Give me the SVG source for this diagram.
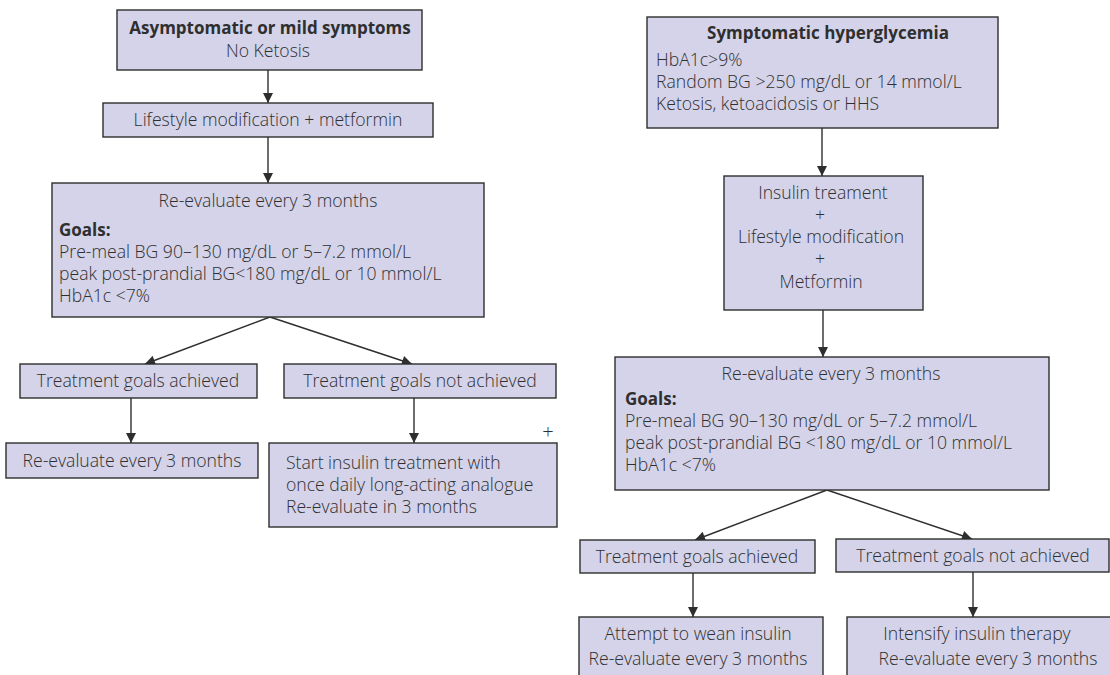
<svg xmlns="http://www.w3.org/2000/svg" width="1110" height="675" viewBox="0 0 1110 675">
<defs>
<style>
.box{fill:#d4d3e9;stroke:#2e2e2e;stroke-width:1.4}
text{font-family:"Open Sans","Noto Sans","Liberation Sans",sans-serif;font-size:17.6px;fill:#2f2f2f;font-weight:300}
.c{text-anchor:middle}
.b{font-weight:bold;font-size:17px}
.con{stroke:#2e2e2e;stroke-width:1.4;fill:none;marker-end:url(#ah)}
</style>
<marker id="ah" viewBox="0 0 10 10" refX="10" refY="5" markerWidth="11" markerHeight="10" markerUnits="userSpaceOnUse" orient="auto">
<path d="M0,0 L10,5 L0,10 z" fill="#2e2e2e"/>
</marker>
</defs>
<rect width="1110" height="675" fill="#ffffff"/>

<g id="connectors">
<line class="con" x1="268" y1="70" x2="268" y2="103"/>
<line class="con" x1="268" y1="137" x2="268" y2="183"/>
<line class="con" x1="270" y1="317" x2="145" y2="364"/>
<line class="con" x1="270" y1="317" x2="412" y2="364"/>
<line class="con" x1="131" y1="398" x2="131" y2="443"/>
<line class="con" x1="414" y1="398" x2="414" y2="443"/>
<line class="con" x1="822" y1="128" x2="822" y2="176"/>
<line class="con" x1="823" y1="310" x2="823" y2="357"/>
<line class="con" x1="827" y1="490" x2="695" y2="540"/>
<line class="con" x1="827" y1="490" x2="972" y2="539"/>
<line class="con" x1="693" y1="573" x2="693" y2="617"/>
<line class="con" x1="973" y1="572" x2="973" y2="617"/>
</g>

<g id="n-mild">
<rect class="box" x="117" y="10" width="305" height="60"/>
<text class="c b" x="270" y="34">Asymptomatic or mild symptoms</text>
<text class="c" x="268" y="57">No Ketosis</text>
</g>

<g id="n-lifestyle">
<rect class="box" x="103" y="103" width="330" height="34"/>
<text class="c" x="268" y="126">Lifestyle modification + metformin</text>
</g>

<g id="n-reeval-left">
<rect class="box" x="52" y="183" width="432" height="134"/>
<text class="c" x="268" y="207">Re-evaluate every 3 months</text>
<text class="b" x="59" y="236">Goals:</text>
<text x="59" y="258">Pre-meal BG 90–130 mg/dL or 5–7.2 mmol/L</text>
<text x="59" y="280">peak post-prandial BG&lt;180 mg/dL or 10 mmol/L</text>
<text x="59" y="302">HbA1c &lt;7%</text>
</g>

<g id="n-achieved-left">
<rect class="box" x="20" y="364" width="237" height="34"/>
<text class="c" x="138" y="387">Treatment goals achieved</text>
</g>

<g id="n-notachieved-left">
<rect class="box" x="284" y="364" width="272" height="34"/>
<text class="c" x="420" y="387">Treatment goals not achieved</text>
</g>

<g id="n-reeval-small">
<rect class="box" x="6" y="443" width="252" height="35"/>
<text class="c" x="132" y="467">Re-evaluate every 3 months</text>
</g>

<g id="n-start-insulin">
<rect class="box" x="269" y="443" width="288" height="84"/>
<text x="286" y="469">Start insulin treatment with</text>
<text x="286" y="491">once daily long-acting analogue</text>
<text x="286" y="513">Re-evaluate in 3 months</text>
<text class="c" x="548" y="439" style="font-size:20px">+</text>
</g>

<g id="n-symptomatic">
<rect class="box" x="647" y="17" width="351" height="111"/>
<text class="c b" x="828" y="39">Symptomatic hyperglycemia</text>
<text x="656" y="66">HbA1c&gt;9%</text>
<text x="656" y="88">Random BG &gt;250 mg/dL or 14 mmol/L</text>
<text x="656" y="110">Ketosis, ketoacidosis or HHS</text>
</g>

<g id="n-insulin">
<rect class="box" x="724" y="176" width="199" height="134"/>
<text class="c" x="823" y="199">Insulin treament</text>
<text class="c" x="820" y="221">+</text>
<text class="c" x="821" y="243">Lifestyle modification</text>
<text class="c" x="820" y="265">+</text>
<text class="c" x="821" y="288">Metformin</text>
</g>

<g id="n-reeval-right">
<rect class="box" x="615" y="357" width="434" height="133"/>
<text class="c" x="831" y="380">Re-evaluate every 3 months</text>
<text class="b" x="625" y="405">Goals:</text>
<text x="625" y="427">Pre-meal BG 90–130 mg/dL or 5–7.2 mmol/L</text>
<text x="625" y="449">peak post-prandial BG &lt;180 mg/dL or 10 mmol/L</text>
<text x="625" y="471">HbA1c &lt;7%</text>
</g>

<g id="n-achieved-right">
<rect class="box" x="580" y="540" width="235" height="33"/>
<text class="c" x="697" y="563">Treatment goals achieved</text>
</g>

<g id="n-notachieved-right">
<rect class="box" x="836" y="539" width="273" height="33"/>
<text class="c" x="973" y="562">Treatment goals not achieved</text>
</g>

<g id="n-wean">
<rect class="box" x="579" y="617" width="244" height="80"/>
<text class="c" x="698" y="640">Attempt to wean insulin</text>
<text class="c" x="698" y="665">Re-evaluate every 3 months</text>
</g>

<g id="n-intensify">
<rect class="box" x="847" y="617" width="280" height="80"/>
<text class="c" x="977" y="640">Intensify insulin therapy</text>
<text class="c" x="988" y="665">Re-evaluate every 3 months</text>
</g>
</svg>
